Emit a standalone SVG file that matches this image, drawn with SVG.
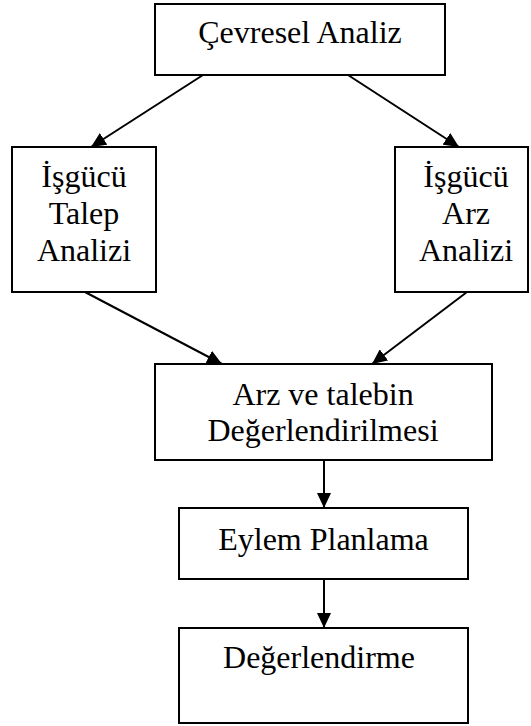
<svg xmlns="http://www.w3.org/2000/svg" width="531" height="726" viewBox="0 0 531 726">
<style>
.box{fill:#fff;stroke:#000;stroke-width:2}
.t{font-family:"Liberation Serif","Times New Roman",serif;font-size:32px;fill:#000;text-anchor:middle}
.c{stroke:#000;stroke-width:2;fill:none;marker-end:url(#ah)}
</style>
<defs>
<marker id="ah" markerUnits="userSpaceOnUse" markerWidth="15" markerHeight="14" refX="15" refY="7" orient="auto">
<path d="M0,0 L15,7 L0,14 z" fill="#000"/>
</marker>
</defs>
<rect width="531" height="726" fill="#fff"/>
<g id="connectors">
<line class="c" x1="203" y1="75" x2="91" y2="147"/>
<line class="c" x1="348" y1="75" x2="459" y2="147"/>
<line class="c" x1="85" y1="292" x2="222" y2="364"/>
<line class="c" x1="467" y1="292" x2="372" y2="364"/>
<line class="c" x1="324" y1="460" x2="324" y2="508"/>
<line class="c" x1="324" y1="579" x2="324" y2="628"/>
</g>
<g id="cevresel">
<rect class="box" x="155" y="4" width="290" height="71"/>
<text class="t" x="300" y="43">Çevresel Analiz</text>
</g>
<g id="talep">
<rect class="box" x="12" y="147" width="144" height="145"/>
<text class="t" x="84" y="187">İşgücü</text>
<text class="t" x="84" y="224">Talep</text>
<text class="t" x="84" y="261">Analizi</text>
</g>
<g id="arz">
<rect class="box" x="395" y="147" width="133" height="145"/>
<text class="t" x="466" y="187">İşgücü</text>
<text class="t" x="466" y="224">Arz</text>
<text class="t" x="466" y="261">Analizi</text>
</g>
<g id="degerlendirilmesi">
<rect class="box" x="155" y="364" width="337" height="96"/>
<text class="t" x="323" y="405">Arz ve talebin</text>
<text class="t" x="323" y="441">Değerlendirilmesi</text>
</g>
<g id="eylem">
<rect class="box" x="179" y="508" width="289" height="71"/>
<text class="t" x="323.5" y="550">Eylem Planlama</text>
</g>
<g id="degerlendirme">
<rect class="box" x="179" y="628" width="289" height="95"/>
<text class="t" x="319" y="668">Değerlendirme</text>
</g>
</svg>
